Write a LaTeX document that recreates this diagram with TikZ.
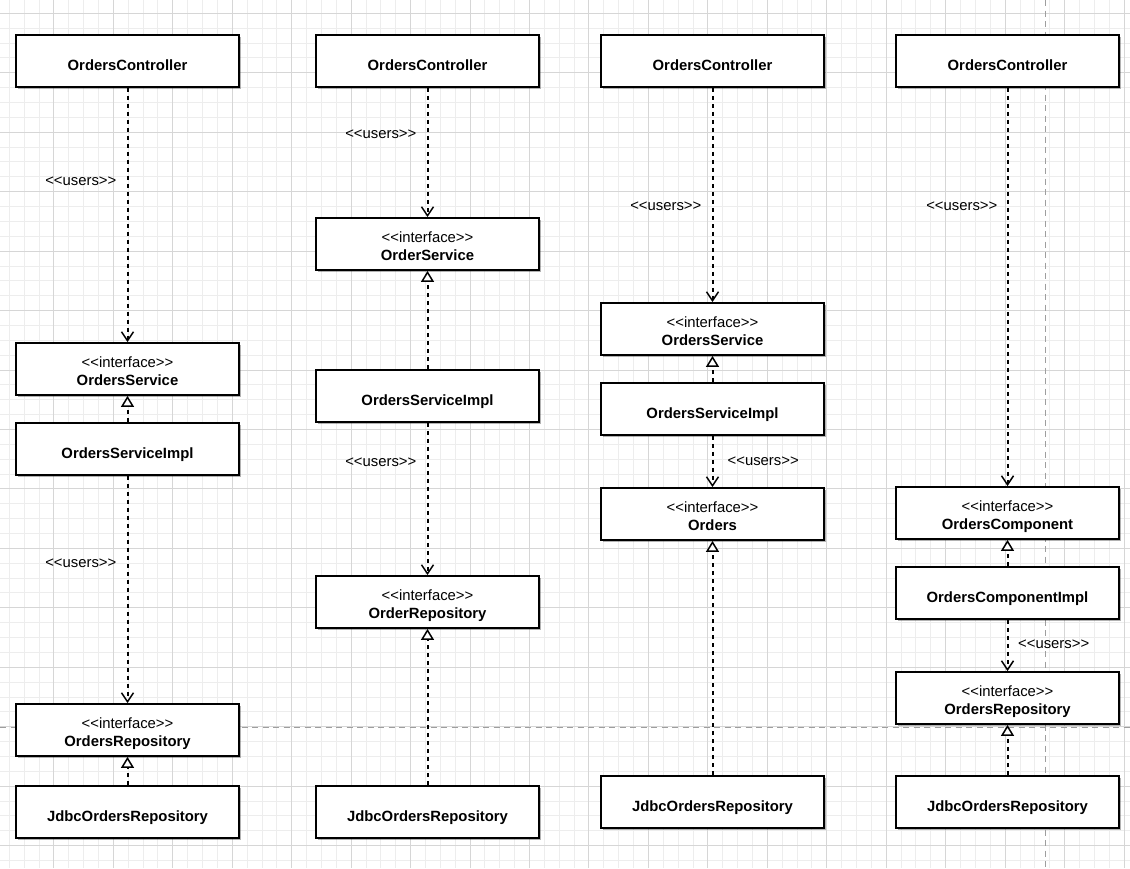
\documentclass[tikz,border=0pt]{standalone}
\usepackage{fontspec}
\setmainfont{Liberation Sans}[Ligatures=TeXOff]
\usetikzlibrary{arrows.meta,shadows}

% single-line class name, placed slightly below the box centre
\newcommand{\oneline}[1]{\raisebox{0pt}[22pt][4pt]{\textbf{#1}}}
% stereotype above a bold class name
\newcommand{\twoline}[2]{\raisebox{0pt}[10pt][13pt]{\vtop{\baselineskip=18pt\lineskiplimit=-20pt\halign{\hfil##\hfil\cr#1\cr\textbf{#2}\cr}}}}
\newcommand{\stereo}[1]{<<#1>>}

\begin{document}
\begin{tikzpicture}[x=1pt,y=-1pt,
  minorgrid/.style={draw=black!7,line width=0.9pt},
  majorgrid/.style={draw=black!16,line width=1pt},
  guide/.style={draw=black!38,line width=1pt,dash pattern=on 6pt off 4.5pt},
  cls/.style={draw=black,line width=1.8pt,fill=white,
    minimum width=223pt,minimum height=52pt,inner sep=0pt,
    font=\fontsize{14.85}{18}\selectfont,
    drop shadow={shadow xshift=2pt,shadow yshift=-2pt,opacity=0.3,fill=black}},
  lbl/.style={inner sep=0pt,font=\fontsize{14.85}{18}\selectfont},
  uses/.style={line width=2pt,dash pattern=on 4pt off 4pt,
    -{Straight Barb[length=9pt,width=12pt,line width=1.5pt]}},
  realizes/.style={line width=2pt,dash pattern=on 4pt off 4pt,
    -{Triangle[open,length=11pt,width=13pt,fill=white,line width=1.5pt]}}]

\useasboundingbox (0,0) rectangle (1130,868);
\fill[white] (0,0) rectangle (1130,868);

% background grid
\foreach \i in {0,...,75} \draw[minorgrid] ({9.3+\i*14.8625},0) -- ++(0,868);
\foreach \j in {0,...,57} \draw[minorgrid] (0,{13.3+\j*14.8625}) -- ++(1130,0);
\foreach \i in {0,...,18} \draw[majorgrid] ({53.9+\i*59.45},0) -- ++(0,868);
\foreach \j in {0,...,14} \draw[majorgrid] (0,{13.3+\j*59.45}) -- ++(1130,0);

% page guides
\coordinate (gl) at (0,727);
\coordinate (gr) at (1130,727);
\coordinate (gt) at (1045,0);
\coordinate (gb) at (1045,868);
\draw[guide] (gl) -- (gr);
\draw[guide] (gt) -- (gb);

% column 1
\node[cls] (c1) at (127.5,61)  {\oneline{OrdersController}};
\node[cls] (s1) at (127.5,369) {\twoline{\stereo{interface}}{OrdersService}};
\node[cls] (i1) at (127.5,449) {\oneline{OrdersServiceImpl}};
\node[cls] (r1) at (127.5,730) {\twoline{\stereo{interface}}{OrdersRepository}};
\node[cls] (j1) at (127.5,812) {\oneline{JdbcOrdersRepository}};

% column 2
\node[cls] (c2) at (427.5,61)  {\oneline{OrdersController}};
\node[cls] (s2) at (427.5,244) {\twoline{\stereo{interface}}{OrderService}};
\node[cls] (i2) at (427.5,396) {\oneline{OrdersServiceImpl}};
\node[cls] (r2) at (427.5,602) {\twoline{\stereo{interface}}{OrderRepository}};
\node[cls] (j2) at (427.5,812) {\oneline{JdbcOrdersRepository}};

% column 3
\node[cls] (c3) at (712.5,61)  {\oneline{OrdersController}};
\node[cls] (s3) at (712.5,329) {\twoline{\stereo{interface}}{OrdersService}};
\node[cls] (i3) at (712.5,409) {\oneline{OrdersServiceImpl}};
\node[cls] (o3) at (712.5,514) {\twoline{\stereo{interface}}{Orders}};
\node[cls] (j3) at (712.5,802) {\oneline{JdbcOrdersRepository}};

% column 4
\node[cls] (c4) at (1007.5,61)  {\oneline{OrdersController}};
\node[cls] (p4) at (1007.5,513) {\twoline{\stereo{interface}}{OrdersComponent}};
\node[cls] (q4) at (1007.5,593) {\oneline{OrdersComponentImpl}};
\node[cls] (r4) at (1007.5,698) {\twoline{\stereo{interface}}{OrdersRepository}};
\node[cls] (j4) at (1007.5,802) {\oneline{JdbcOrdersRepository}};

% dependencies and realizations
\draw[uses] (c1) -- (s1);
\draw[realizes] (i1) -- (s1);
\draw[uses] (i1) -- (r1);
\draw[realizes] (j1) -- (r1);

\draw[uses] (c2) -- (s2);
\draw[realizes] (i2) -- (s2);
\draw[uses] (i2) -- (r2);
\draw[realizes] (j2) -- (r2);

\draw[uses] (c3) -- (s3);
\draw[realizes] (i3) -- (s3);
\draw[uses] (i3) -- (o3);
\draw[realizes] (j3) -- (o3);

\draw[uses] (c4) -- (p4);
\draw[realizes] (q4) -- (p4);
\draw[uses] (q4) -- (r4);
\draw[realizes] (j4) -- (r4);

% stereotype labels
\node[lbl,anchor=east] (u1) at (116.5,181) {\stereo{users}};
\node[lbl,anchor=east] (u2) at (116.5,563) {\stereo{users}};
\node[lbl,anchor=east] (u3) at (416.5,134) {\stereo{users}};
\node[lbl,anchor=east] (u4) at (416.5,462) {\stereo{users}};
\node[lbl,anchor=east] (u5) at (701.5,206) {\stereo{users}};
\node[lbl,anchor=west] (u6) at (727.5,461.5) {\stereo{users}};
\node[lbl,anchor=east] (u7) at (997.5,206) {\stereo{users}};
\node[lbl,anchor=west] (u8) at (1018,644) {\stereo{users}};
\end{tikzpicture}
\end{document}
